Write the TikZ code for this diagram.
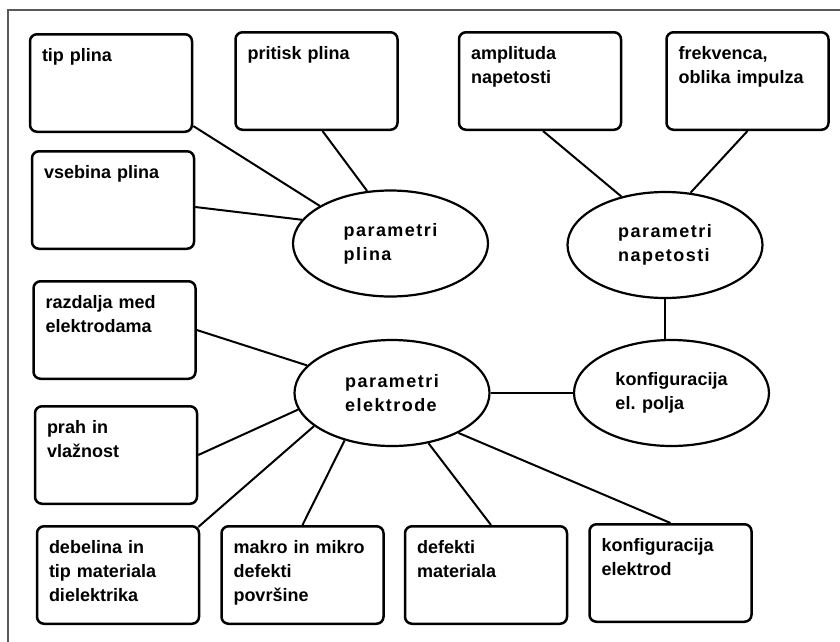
\documentclass[tikz,border=0pt]{standalone}
\usepackage{fontspec}
\setmainfont{Liberation Sans}
\usetikzlibrary{shapes.geometric, positioning}

\begin{document}
\begin{tikzpicture}[
    x=1pt, y=-1pt,
    node distance=18pt,
    every node/.style={font=\fontsize{18}{24}\selectfont\bfseries}, % same bold face everywhere
    box/.style={draw, line width=2.5pt, rounded corners=7pt, text width=138pt, align=left,
        inner xsep=12pt, inner ysep=14pt, text height=13pt, text depth=56.5pt},
    param/.style={ellipse, draw, line width=2.2pt, minimum width=195pt, minimum height=106pt,
        inner sep=0pt, align=left},
    wide/.style={font=\fontsize{18}{24}\selectfont\bfseries\addfontfeature{LetterSpace=8}},
    link/.style={draw, line width=2pt}
]
\useasboundingbox (0,0) rectangle (840,641);
% outer frame (cut off right and below)
\draw[black!65, line width=1.2pt] (8,660) |- (860,10);

% draw the boxes
\node[box] (tip) at (111,83) {tip plina};
\node[box, right=41pt of tip, yshift=2pt] (pritisk) {pritisk plina};
\node[box, right=59pt of pritisk] (ampl) {amplituda\\napetosti};
\node[box, right=43pt of ampl] (frek) {frekvenca,\\oblika impulza};
\node[box, below=17pt of tip, xshift=2pt] (vsebina) {vsebina plina};
\node[box, below=30pt of vsebina, xshift=1.5pt] (razdalja) {razdalja med\\elektrodama};
\node[box, below=25pt of razdalja, xshift=1.5pt] (prah) {prah in\\vla\v{z}nost};
\node[box, below=20pt of prah, xshift=2pt] (debelina) {debelina in\\tip materiala\\dielektrika};
\node[box, right=20pt of debelina] (makro) {makro in mikro\\defekti\\povr\v{s}ine};
\node[box, right=19pt of makro] (defekti) {defekti\\materiala};
\node[box, right=20pt of defekti, yshift=2pt] (konfig) {konfiguracija\\elektrod};

% draw the ellipses
\node[param, wide] (plina) at (390.5,243.5) {parametri\\plina};
\node[param, wide] (napetost) at (665,245) {parametri\\napetosti};
\node[param, wide] (elektrode) at (392,393) {parametri\\elektrode};
\node[param] (polje) at (671.5,393) {konfiguracija\\el. polja};

% draw the links
\path[link]
([yshift=7pt]tip.south east) edge (plina.152)
([xshift=6pt]pritisk.south) edge (plina.114)
([yshift=-7pt]vsebina.east) edge (plina.165)
([xshift=3pt]ampl.south) edge (napetost.132)
(frek.south) edge (napetost.64)
(napetost.south) edge (napetost.south |- polje.north)
(elektrode.east) edge (polje.west)
(razdalja.east) edge (elektrode.162)
(prah.east) edge (elektrode.190)
([xshift=-2pt,yshift=-2pt]debelina.north east) edge (elektrode.203)
(makro.north) edge (elektrode.225)
([xshift=5pt]defekti.north) edge (elektrode.306)
(konfig.north) edge (elektrode.329)
;
\end{tikzpicture}
\end{document}
